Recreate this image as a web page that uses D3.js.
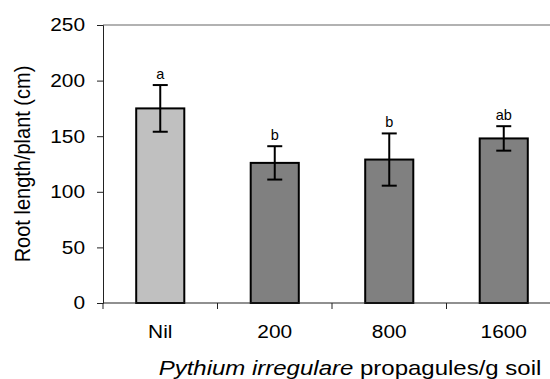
<!DOCTYPE html>
<html>
<head>
<meta charset="utf-8">
<script src="https://cdn.jsdelivr.net/npm/d3@7"></script>
<style>
  body { margin: 0; background: #fff; }
  text { font-family: "Liberation Sans", Arial, sans-serif; }
</style>
</head>
<body>
<div id="canvas"></div>
<script>
"use strict"

let drawingWidth = 550;
let drawingHeight = 379;

/* data */
let categories = ["Nil", "200", "800", "1600"];
let rootLength = [175, 126, 129, 148];
let errors = [21, 15, 23.5, 11];
let letters = ["a", "b", "b", "ab"];
let yTicks = [0, 50, 100, 150, 200, 250];

let plotLeft = 103, plotTop = 25, plotBottom = 303, plotRight = 561;
let stretch = 1.13;   // the reference text is a bit wider than Arial

let drawing = d3.select("#canvas")
    .append("svg")
    .attr("width", drawingWidth)
    .attr("height", drawingHeight);

let x = d3.scaleBand()
    .domain(categories)
    .range([plotLeft, plotRight])
    .paddingInner(0.58)
    .paddingOuter(0.29);

let y = d3.scaleLinear()
    .domain([0, 250])
    .range([plotBottom, plotTop]);

/* grey line along the top of the plot */
drawing.append("line")
    .attr("x1", plotLeft)
    .attr("x2", drawingWidth)
    .attr("y1", y(250))
    .attr("y2", y(250))
    .attr("stroke", "#999")
    .attr("stroke-width", 1.5);

/* y axis */
let yAxis = drawing.append("g")
    .attr("transform", "translate(" + plotLeft + ",0)")
    .call(d3.axisLeft(y).tickValues(yTicks).tickSize(6));
yAxis.select(".domain").attr("stroke", "#222");
yAxis.selectAll("line").attr("stroke", "#222");
yAxis.selectAll("text")
    .attr("x", 0)
    .attr("transform", "translate(-18,0) scale(" + stretch + ",1)")
    .attr("font-size", 18.5)
    .attr("fill", "#000")
    .style("font-family", "Liberation Sans, Arial, sans-serif");

/* bars */
drawing.selectAll(".bar")
    .data(categories)
    .enter()
    .append("rect")
    .attr("x", d => x(d))
    .attr("y", (d, i) => y(rootLength[i]))
    .attr("width", x.bandwidth())
    .attr("height", (d, i) => y(0) - y(rootLength[i]))
    .attr("fill", (d, i) => i === 0 ? "#c0c0c0" : "#808080")
    .attr("stroke", "#000")
    .attr("stroke-width", 2);

/* error bars and letters */
let cap = 7.5;
categories.forEach((c, i) => {
    let cx = x(c) + x.bandwidth() / 2;
    let hi = y(rootLength[i] + errors[i]);
    let lo = y(rootLength[i] - errors[i]);
    drawing.append("line")
        .attr("x1", cx).attr("x2", cx)
        .attr("y1", hi).attr("y2", lo)
        .attr("stroke", "#000").attr("stroke-width", 2);
    drawing.append("line")
        .attr("x1", cx - cap).attr("x2", cx + cap)
        .attr("y1", hi).attr("y2", hi)
        .attr("stroke", "#000").attr("stroke-width", 2);
    drawing.append("line")
        .attr("x1", cx - cap).attr("x2", cx + cap)
        .attr("y1", lo).attr("y2", lo)
        .attr("stroke", "#000").attr("stroke-width", 2);
    drawing.append("text")
        .attr("x", cx)
        .attr("y", hi - 6)
        .attr("text-anchor", "middle")
        .attr("font-size", 14.5)
        .text(letters[i]);
});

/* x axis: line with ticks between the categories */
drawing.append("line")
    .attr("x1", plotLeft)
    .attr("x2", drawingWidth)
    .attr("y1", y(0))
    .attr("y2", y(0))
    .attr("stroke", "#222")
    .attr("stroke-width", 1.2);

let gap = (x.step() - x.bandwidth()) / 2;
categories.forEach(c => {
    let bx = x(c) - gap;
    drawing.append("line")
        .attr("x1", bx).attr("x2", bx)
        .attr("y1", y(0)).attr("y2", y(0) + 6)
        .attr("stroke", "#222");
    drawing.append("text")
        .attr("transform", "translate(" + (x(c) + x.bandwidth() / 2) + ",338) scale(" + stretch + ",1)")
        .attr("text-anchor", "middle")
        .attr("font-size", 18.5)
        .text(c);
});

/* axis titles */
drawing.append("text")
    .attr("transform", "translate(30,164) scale(" + stretch + ",1) rotate(-90)")
    .attr("text-anchor", "middle")
    .attr("font-size", 20)
    .text("Root length/plant (cm)");

let xTitle = drawing.append("text")
    .attr("transform", "translate(350,374.5) scale(1.2,1)")
    .attr("text-anchor", "middle")
    .attr("font-size", 20);
xTitle.append("tspan").attr("font-style", "italic").text("Pythium irregulare");
xTitle.append("tspan").text(" propagules/g soil");
</script>
</body>
</html>
